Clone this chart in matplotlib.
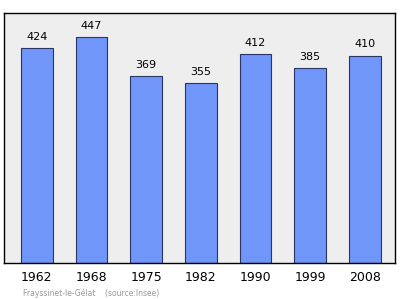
import matplotlib
matplotlib.use('Agg')
import matplotlib.pyplot as plt

years = ['1962', '1968', '1975', '1982', '1990', '1999', '2008']
population = [424, 447, 369, 355, 412, 385, 410]

fig = plt.figure(figsize=(4.0, 2.99), dpi=100)
# axes box: x 4..395, y 13..263 (pixels, from top)
ax = fig.add_axes([4 / 400, 1 - 263 / 299, 391 / 400, 250 / 299])
ax.set_facecolor('#eeeeee')

x = range(len(years))
ax.bar(x, population, width=0.58, color='#7096fa', edgecolor='#2a3566',
       linewidth=0.8, zorder=2)

for xi, val in zip(x, population):
    ax.annotate(str(val), (xi, val), xytext=(0, 8), textcoords='offset points',
                ha='center', va='center', fontsize=8, color='black')

ax.set_xlim(-0.6, 6.55)
ax.set_ylim(0, 494)
ax.set_yticks([])
ax.set_xticks(list(x))
ax.set_xticklabels(years, fontsize=9)
ax.tick_params(axis='x', length=0, pad=6)
for side in ax.spines.values():
    side.set_color('black')
    side.set_linewidth(1.0)

fig.text(23 / 400, 1 - 293 / 299, 'Frayssinet-le-Gélat    (source:Insee)',
         fontsize=5.5, color='#999999', va='center', ha='left')

fig.savefig('out.png', dpi=100)
